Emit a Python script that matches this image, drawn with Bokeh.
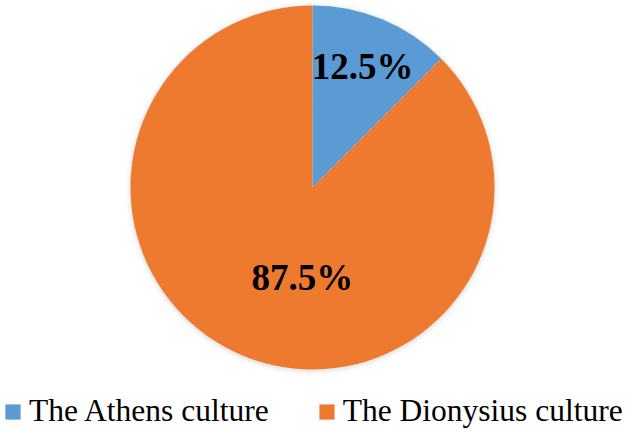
import math
from bokeh.plotting import figure
from bokeh.models import Legend, LegendItem, ColumnDataSource
from bokeh.core.properties import value
from bokeh.embed import file_html
from bokeh.resources import INLINE

categories = ["The Athens culture", "The Dionysius culture"]
shares = [12.5, 87.5]
colors = ["#5B9BD5", "#EE7A30"]

W, H = 633, 429
cx, cy, R = 312, 242, 182

# angles: start at top (90 deg), go clockwise
total = sum(shares)
starts, ends, mids = [], [], []
a = math.pi / 2
for s in shares:
    span = 2 * math.pi * s / total
    starts.append(a - span)
    ends.append(a)
    mids.append(a - span / 2)
    a -= span

src = ColumnDataSource(dict(start=starts, end=ends, color=colors, cat=categories))

p = figure(width=W, height=H, x_range=(0, W), y_range=(0, H),
           output_backend="svg", toolbar_location=None, min_border=0)
p.axis.visible = False
p.grid.visible = False
p.outline_line_color = None

# soft shadow
for k, al in [(5, 0.03), (3, 0.05), (1.5, 0.08)]:
    p.circle(x=[cx], y=[cy - 1], radius=R + k, fill_color="#808080",
             fill_alpha=al, line_color=None)

r = p.wedge(x=cx, y=cy, radius=R, start_angle="start", end_angle="end",
            fill_color="color", line_color=None, source=src)

label_r = [0.72, 0.50]
label_da = [0.0, 0.28]
lx = [cx + R * f * math.cos(m + d) for f, m, d in zip(label_r, mids, label_da)]
ly = [cy + R * f * math.sin(m + d) for f, m, d in zip(label_r, mids, label_da)]
labels = [f"{s:.1f}%" for s in shares]
p.text(x=lx, y=ly, text=labels, text_font=value("Liberation Serif"),
       text_font_style="bold", text_font_size="37px", text_align="center",
       text_baseline="middle", text_color="black")

legend = Legend(items=[LegendItem(label=c, renderers=[r], index=i) for i, c in enumerate(categories)],
                orientation="horizontal", location=(3, 0),
                label_text_font="Liberation Serif", label_text_font_size="31.5px",
                label_text_color="black",
                glyph_width=19, glyph_height=19, label_standoff=7, spacing=48,
                padding=0, margin=0, border_line_alpha=0, background_fill_alpha=0)
p.add_layout(legend)

open("out.html", "w").write(file_html(p, INLINE))
